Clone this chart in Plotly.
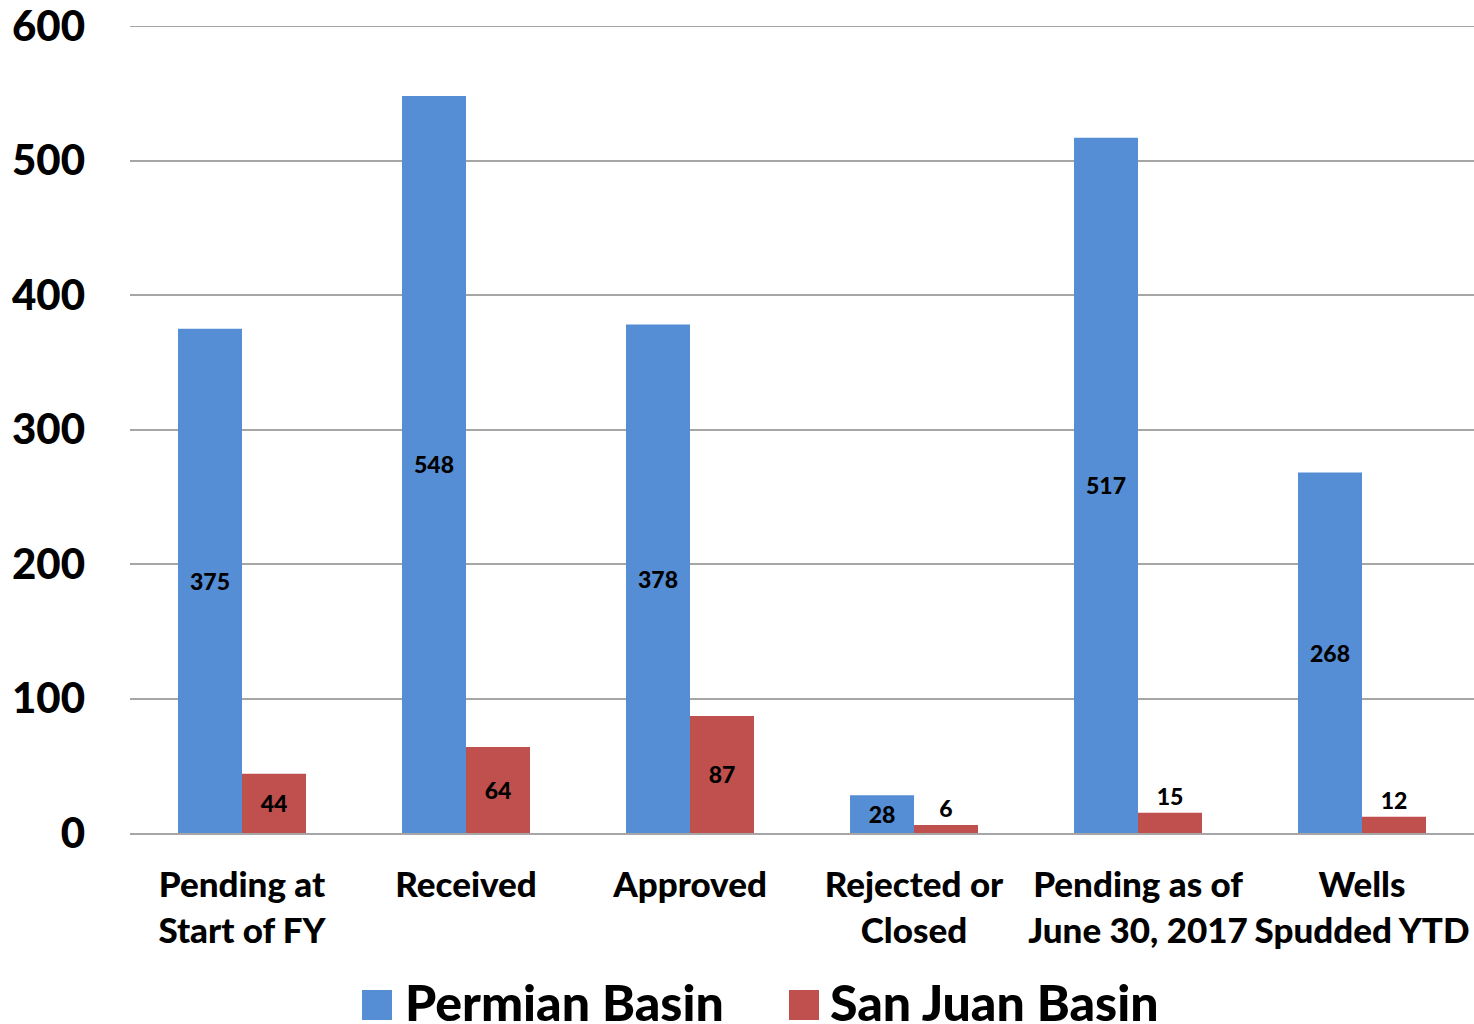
import plotly.graph_objects as go

categories = ["Pending at<br>Start of FY", "Received", "Approved", "Rejected or<br>Closed",
              "Pending as of<br>June 30, 2017", "Wells<br>Spudded YTD"]
permian = [375, 548, 378, 28, 517, 268]
san_juan = [44, 64, 87, 6, 15, 12]
series_names = ["Permian Basin", "San Juan Basin"]
colors = ["#558ED5", "#C0504D"]
y_ticks = [0, 100, 200, 300, 400, 500, 600]

FONT = "Lato"
WT = 900
W, H = 1474, 1024
L, R, T = 130, 0, 26
B = H - 833
pw, ph = W - L - R, H - T - B


def px_x(px):
    return (px - L) / pw


def px_y(py):
    return (H - B - py) / ph


fig = go.Figure()
for name, vals, col in zip(series_names, [permian, san_juan], colors):
    fnt = dict(family=FONT, size=23, color="black", weight=WT)
    fig.add_trace(go.Bar(
        x=categories, y=vals, name=name, marker=dict(color=col, line=dict(width=0)),
        text=[str(v) for v in vals], textposition="auto", insidetextanchor="middle",
        constraintext="none", cliponaxis=False,
        textfont=fnt, insidetextfont=fnt, outsidetextfont=fnt,
        showlegend=False, hoverinfo="skip",
    ))

fig.update_layout(
    width=W, height=H, barmode="group", bargap=0.4286, bargroupgap=0,
    margin=dict(l=L, r=R, t=T, b=B, autoexpand=False), plot_bgcolor="white", paper_bgcolor="white",
    font=dict(family=FONT, color="black", weight=WT),
)
fig.update_yaxes(range=[0, 600], tickvals=y_ticks, showgrid=True, gridcolor="#A6A6A6", gridwidth=2,
                 zeroline=False, showline=False, ticks="", ticklabelstandoff=44,
                 ticklabeloverflow="allow", automargin=False,
                 tickfont=dict(family=FONT, size=42, color="black", weight=WT))
fig.update_xaxes(showline=True, linecolor="#A6A6A6", linewidth=2, ticks="", ticklabelstandoff=20,
                 ticklabeloverflow="allow", automargin=False,
                 tickfont=dict(family=FONT, size=35, color="black", weight=WT))

# top gridline (plotly drops the one on the plot edge)
fig.add_shape(type="line", xref="paper", yref="y", x0=0, x1=1, y0=y_ticks[-1], y1=y_ticks[-1],
              line=dict(color="#A6A6A6", width=2))

# manual legend with large square markers
legend_items = [(362, 404), (789, 829)]
for (sq_x, tx_x), name, col in zip(legend_items, series_names, colors):
    fig.add_shape(type="rect", xref="paper", yref="paper",
                  x0=px_x(sq_x), x1=px_x(sq_x + 30), y0=px_y(1020), y1=px_y(990),
                  fillcolor=col, line=dict(width=0))
    fig.add_annotation(xref="paper", yref="paper", x=px_x(tx_x), y=px_y(1002),
                       xanchor="left", yanchor="middle", text=name, showarrow=False,
                       borderpad=0,
                       font=dict(family=FONT, size=50, color="black", weight=WT))

fig.write_html("out.html", config={"displayModeBar": False},
               post_script="document.body.style.margin='0';document.body.style.overflow='hidden';")
